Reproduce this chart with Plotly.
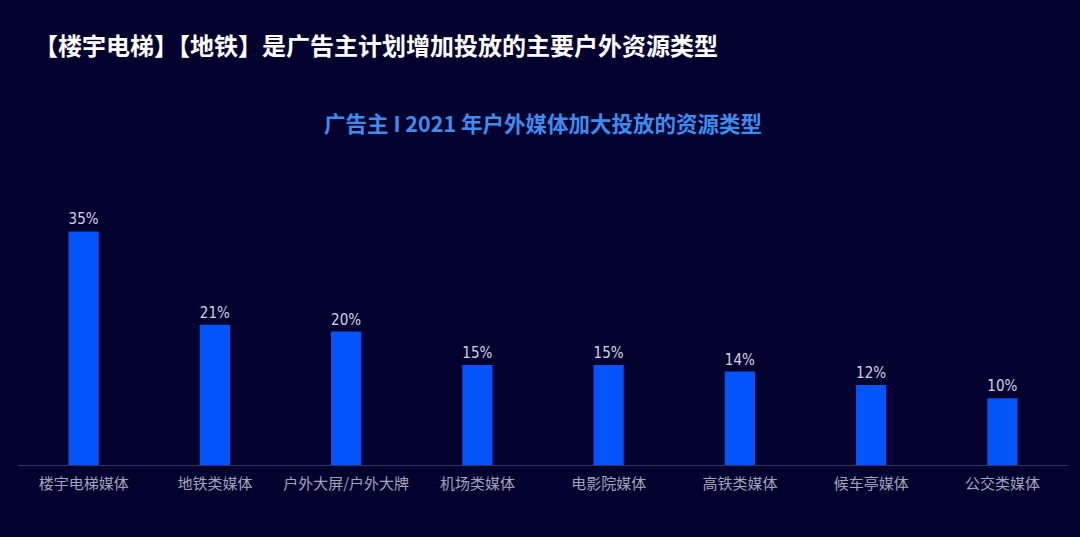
import plotly.graph_objects as go

# data
categories = ["楼宇电梯媒体", "地铁类媒体", "户外大屏/户外大牌", "机场类媒体",
              "电影院媒体", "高铁类媒体", "候车亭媒体", "公交类媒体"]
share_pct = [35, 21, 20, 15, 15, 14, 12, 10]
value_labels = [f"{v}%" for v in share_pct]

BG = "#03012e"
BAR = "#0355fb"

fig = go.Figure()
fig.add_trace(go.Bar(
    x=categories, y=share_pct,
    marker=dict(color=BAR, line=dict(width=0)),
    width=0.23,
    text=value_labels, textposition="outside", cliponaxis=False,
    textfont=dict(family="Liberation Sans Narrow, DejaVu Sans Condensed, Arial", size=15, color="#d4d4e4"),
))

fig.update_layout(
    width=1080, height=537,
    paper_bgcolor=BG, plot_bgcolor=BG,
    margin=dict(l=18, r=12, t=198, b=72),
    showlegend=False,
    font=dict(family="Noto Sans CJK SC"),
    xaxis=dict(showgrid=False, showline=True, linecolor="#34345c", linewidth=1,
               ticks="", ticklabelstandoff=5, tickfont=dict(size=15, color="#a4a4b8")),
    yaxis=dict(range=[0, 40], visible=False, showgrid=False, zeroline=False),
)

# headline and chart subtitle
fig.add_annotation(text="<b>【楼宇电梯】【地铁】是广告主计划增加投放的主要户外资源类型</b>",
                   xref="paper", yref="paper", x=0.0137, y=1.0, yshift=154,
                   xanchor="left", yanchor="middle", showarrow=False,
                   font=dict(size=24, color="#ffffff", family="Noto Sans CJK SC"))
fig.add_annotation(text="<b>广告主 I 2021 年户外媒体加大投放的资源类型</b>",
                   xref="paper", yref="paper", x=0.5, y=1.0, yshift=76,
                   xanchor="center", yanchor="middle", showarrow=False,
                   font=dict(size=21.5, color="#3d8df0", family="Noto Sans CJK SC"))

# drop the page margin so the chart sits flush in the window
fig.write_html("out.html", config={"displayModeBar": False},
               post_script="document.body.style.margin='0';document.body.style.background='#03012e';")
